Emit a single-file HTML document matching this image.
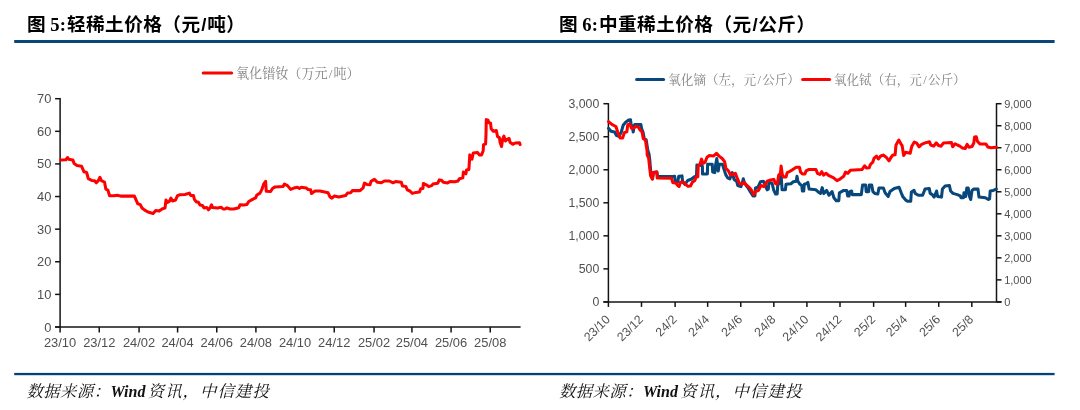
<!DOCTYPE html>
<html lang="zh-CN">
<head>
<meta charset="utf-8">
<title>图 5 / 图 6</title>
<style>
html,body{margin:0;padding:0;background:#fff;}
body{width:1080px;height:410px;position:relative;overflow:hidden;}
.ttl{position:absolute;top:11.6px;height:26px;line-height:26px;white-space:nowrap;
  font-family:"Liberation Serif","Noto Sans CJK SC",sans-serif;font-weight:bold;font-size:18.67px;color:#000;}
.ttl .cj{letter-spacing:0.42px;margin-left:1.1px;}
.ttl .sl{font-family:"Liberation Sans","Noto Sans CJK SC",sans-serif;margin:0 0.7px 0 0.8px;letter-spacing:0;}
.src .cj{letter-spacing:0.8px;font-size:16.4px;}
.src .c1{letter-spacing:0.4px;}
.src .c2{letter-spacing:1.1px;margin-left:-1.8px;}
.src{position:absolute;top:380.3px;height:24px;line-height:24px;white-space:nowrap;
  font-family:"Liberation Serif","Noto Serif CJK SC",serif;font-style:italic;font-size:16px;color:#111;}
</style>
</head>
<body>
<svg width="1080" height="410" viewBox="0 0 1080 410" style="position:absolute;left:0;top:0">
<rect x="14.2" y="40" width="1040.4" height="3" fill="#07477c"/>
<rect x="14.2" y="372.9" width="1040.4" height="2.3" fill="#04437a"/>
<g stroke="#141414" stroke-width="1.5" fill="none">
<path d="M60.1 98.10000000000001V327.0"/>
<path d="M55.1 327.0H520.6"/>
<path d="M55.1 327.00H60.1"/>
<path d="M55.1 294.39H60.1"/>
<path d="M55.1 261.77H60.1"/>
<path d="M55.1 229.16H60.1"/>
<path d="M55.1 196.54H60.1"/>
<path d="M55.1 163.93H60.1"/>
<path d="M55.1 131.31H60.1"/>
<path d="M55.1 98.70H60.1"/>
<path d="M60.10 327.0V332.5"/>
<path d="M99.26 327.0V332.5"/>
<path d="M139.07 327.0V332.5"/>
<path d="M177.59 327.0V332.5"/>
<path d="M216.75 327.0V332.5"/>
<path d="M255.91 327.0V332.5"/>
<path d="M295.07 327.0V332.5"/>
<path d="M334.23 327.0V332.5"/>
<path d="M374.04 327.0V332.5"/>
<path d="M411.92 327.0V332.5"/>
<path d="M451.08 327.0V332.5"/>
<path d="M490.24 327.0V332.5"/>
</g>
<g font-family="'Liberation Sans', Arial, sans-serif" font-size="12.9" fill="#505050">
<text x="51.4" y="331.50" text-anchor="end">0</text>
<text x="51.4" y="298.89" text-anchor="end">10</text>
<text x="51.4" y="266.27" text-anchor="end">20</text>
<text x="51.4" y="233.66" text-anchor="end">30</text>
<text x="51.4" y="201.04" text-anchor="end">40</text>
<text x="51.4" y="168.43" text-anchor="end">50</text>
<text x="51.4" y="135.81" text-anchor="end">60</text>
<text x="51.4" y="103.20" text-anchor="end">70</text>
<text x="60.10" y="347.0" text-anchor="middle">23/10</text>
<text x="99.26" y="347.0" text-anchor="middle">23/12</text>
<text x="139.07" y="347.0" text-anchor="middle">24/02</text>
<text x="177.59" y="347.0" text-anchor="middle">24/04</text>
<text x="216.75" y="347.0" text-anchor="middle">24/06</text>
<text x="255.91" y="347.0" text-anchor="middle">24/08</text>
<text x="295.07" y="347.0" text-anchor="middle">24/10</text>
<text x="334.23" y="347.0" text-anchor="middle">24/12</text>
<text x="374.04" y="347.0" text-anchor="middle">25/02</text>
<text x="411.92" y="347.0" text-anchor="middle">25/04</text>
<text x="451.08" y="347.0" text-anchor="middle">25/06</text>
<text x="490.24" y="347.0" text-anchor="middle">25/08</text>
</g>
<polyline points="60.6,160 65.8,159.7 66.8,158.4 67.6,157.5 68.8,159.3 72.8,159.9 74.2,163.6 77,165.5 81.5,166.2 84,171.8 86.6,172.5 88.3,178.7 91.7,180.4 94.6,180.7 96.3,182.8 98.5,180.4 99.9,177.3 101.4,180.7 104.5,182.1 105.9,189.2 107.9,190.1 109.6,195.7 113.9,195.7 117.3,195.2 120.7,196.1 134.4,196.1 137.8,203.8 140.3,204.6 142,208 145.4,210.6 148.9,212.3 153.1,213.5 155.7,210.6 159.1,211.1 162.5,208.8 165,208.1 166,200 167.5,202.5 169.4,201.3 170.9,198.1 172.5,201 175.6,200 177.5,195.6 180,194.8 185,194.5 189.4,193.1 190.6,195.4 193.5,195.6 194.4,199.4 196.3,201.9 198.1,201.9 200,205 202.5,205.6 204,207.9 206.9,207.5 208.5,209.8 210,208.1 211.5,204.8 212.5,207.5 217.5,208.1 221.3,207.3 223.1,209 225,209 226.9,207.9 230,209 233.8,209 238.8,207.8 240,204.8 243.8,205 246.9,204.4 248.8,201.5 252.5,199.4 255.6,197.8 256.9,195 260,193.1 261.9,189.4 263.8,183.8 265.6,181.3 266.3,191.3 270.6,191.5 272.5,188.5 275,186.9 283.1,186.5 284.4,184 287.5,185.6 290.6,189.4 293.8,188.1 297.5,187.3 299.4,188.5 301.3,187.3 306.3,188.1 308.1,189.4 310.6,189.8 311.5,193.5 315,191 320,191 328.1,192.8 330,196.9 331.9,198.1 334.4,196 338.8,196.9 345.6,195.6 347.5,193.1 350.6,192.8 352.5,190.6 360,190.6 363.1,187.8 364.4,183.1 366.9,184.4 370,184.8 371,181.3 374.4,179.4 377.5,182.3 381.3,182.8 384.4,181 389.4,181 393.1,182.8 395.6,181.5 401.3,182.3 402.5,186.1 405.8,186.4 407.3,189.8 409.9,191 412.3,193.4 416,192.4 419.5,192.1 420.7,188.8 422.9,188.4 423.4,183.5 426.2,184.8 428.7,186.6 431.7,185.6 432.9,184.1 437.8,183.2 439.3,179.9 441.5,180.2 443.3,182.3 447.6,182.9 450,181.5 454.9,181.7 457.9,181.1 459.5,178.7 462.8,177.8 463.4,172 465.9,173.8 466.5,170.1 468.9,169.5 469.8,154.9 472,159.1 473.2,153 477.4,152.4 479.6,155 481.5,154.9 483.2,150.7 483.5,144.6 485.6,144 486,134.3 486.3,119.6 488,120.2 488.8,122.7 490.5,123 491.2,128.8 493.3,131.2 496.3,130.6 497.6,136.7 499.4,137.7 500.2,142.8 501.5,146.5 502.7,139.1 503.9,136.1 505.5,141 507.3,139.1 509.1,138.5 510,142.2 512.8,144.3 515.2,143 519.5,142.8 520.1,144.6" fill="none" stroke="#ff0000" stroke-width="3.05" stroke-linejoin="round" stroke-linecap="round"/>
<path d="M203.2 73H231.6" stroke="#ff0000" stroke-width="3" stroke-linecap="round"/>
<text x="236" y="77.9" font-family="'Liberation Serif', 'Noto Serif CJK SC', serif" font-size="13.1" fill="#828282">氧化镨钕（万元<tspan dx="1.1">/</tspan><tspan dx="1.1">吨）</tspan></text>
<g stroke="#141414" stroke-width="1.5" fill="none">
<path d="M608.4 103.10000000000001V301.9"/>
<path d="M996.5 103.10000000000001V301.9"/>
<path d="M603.4 301.9H1001.5"/>
<path d="M603.4 301.90H608.4"/>
<path d="M603.4 268.87H608.4"/>
<path d="M603.4 235.83H608.4"/>
<path d="M603.4 202.80H608.4"/>
<path d="M603.4 169.77H608.4"/>
<path d="M603.4 136.73H608.4"/>
<path d="M603.4 103.70H608.4"/>
<path d="M996.5 301.90H1001.5"/>
<path d="M996.5 279.88H1001.5"/>
<path d="M996.5 257.86H1001.5"/>
<path d="M996.5 235.83H1001.5"/>
<path d="M996.5 213.81H1001.5"/>
<path d="M996.5 191.79H1001.5"/>
<path d="M996.5 169.77H1001.5"/>
<path d="M996.5 147.74H1001.5"/>
<path d="M996.5 125.72H1001.5"/>
<path d="M996.5 103.70H1001.5"/>
<path d="M608.40 301.9V306.9"/>
<path d="M641.49 301.9V306.9"/>
<path d="M675.12 301.9V306.9"/>
<path d="M707.66 301.9V306.9"/>
<path d="M740.75 301.9V306.9"/>
<path d="M773.83 301.9V306.9"/>
<path d="M806.92 301.9V306.9"/>
<path d="M840.00 301.9V306.9"/>
<path d="M873.63 301.9V306.9"/>
<path d="M905.64 301.9V306.9"/>
<path d="M938.72 301.9V306.9"/>
<path d="M971.81 301.9V306.9"/>
</g>
<g font-family="'Liberation Sans', Arial, sans-serif" font-size="12.3" fill="#505050">
<text x="599.3" y="306.30" text-anchor="end">0</text>
<text x="599.3" y="273.27" text-anchor="end">500</text>
<text x="599.3" y="240.23" text-anchor="end">1,000</text>
<text x="599.3" y="207.20" text-anchor="end">1,500</text>
<text x="599.3" y="174.17" text-anchor="end">2,000</text>
<text x="599.3" y="141.13" text-anchor="end">2,500</text>
<text x="599.3" y="108.10" text-anchor="end">3,000</text>
<text transform="translate(610.80 320.20) rotate(-45)" text-anchor="end">23/10</text>
<text transform="translate(643.89 320.20) rotate(-45)" text-anchor="end">23/12</text>
<text transform="translate(677.52 320.20) rotate(-45)" text-anchor="end">24/2</text>
<text transform="translate(710.06 320.20) rotate(-45)" text-anchor="end">24/4</text>
<text transform="translate(743.15 320.20) rotate(-45)" text-anchor="end">24/6</text>
<text transform="translate(776.23 320.20) rotate(-45)" text-anchor="end">24/8</text>
<text transform="translate(809.32 320.20) rotate(-45)" text-anchor="end">24/10</text>
<text transform="translate(842.40 320.20) rotate(-45)" text-anchor="end">24/12</text>
<text transform="translate(876.03 320.20) rotate(-45)" text-anchor="end">25/2</text>
<text transform="translate(908.04 320.20) rotate(-45)" text-anchor="end">25/4</text>
<text transform="translate(941.12 320.20) rotate(-45)" text-anchor="end">25/6</text>
<text transform="translate(974.21 320.20) rotate(-45)" text-anchor="end">25/8</text>
</g>
<g font-family="'Liberation Sans', Arial, sans-serif" font-size="11" fill="#505050">
<text x="1004.2" y="305.80">0</text>
<text x="1004.2" y="283.78">1,000</text>
<text x="1004.2" y="261.76">2,000</text>
<text x="1004.2" y="239.73">3,000</text>
<text x="1004.2" y="217.71">4,000</text>
<text x="1004.2" y="195.69">5,000</text>
<text x="1004.2" y="173.67">6,000</text>
<text x="1004.2" y="151.64">7,000</text>
<text x="1004.2" y="129.62">8,000</text>
<text x="1004.2" y="107.60">9,000</text>
</g>
<polyline points="608.5,128.3 611,131.3 614.6,132 616.5,135.6 619,136.2 621.3,132 623.2,125.2 625.6,122.2 628.7,120 630.5,119.8 631.1,124.6 632.2,126 633.2,132 634.2,126 634.8,124.4 640.9,124.4 641.5,128.3 643,132 644.3,138.7 646.2,139.9 647.8,150.2 649,154 649.8,160 650.4,168 651.2,176 652.5,179 653.5,172.6 656.9,172 657.6,176.6 672.8,176.6 674.6,176.2 675.3,181.7 677.8,182 678.7,176.2 682,175.9 682.6,182 685,184.5 687.7,180.5 691.1,179.3 694.8,176.6 696.5,176 696.9,165 701.8,165.5 702.4,166.2 702.5,173.9 707.4,173.9 707.6,164.2 712.2,164.2 712.7,172 714.8,172.6 715.6,165 716.8,158.6 717.6,165 718.2,171 719.3,164.2 722.4,164.2 724.1,169.6 725.8,174.7 727.6,177.8 729.9,178.8 732.3,172.7 734.1,179.4 736.6,181.2 737.8,185.5 740.9,186.7 742.7,181.2 743.3,178.8 744.5,183 747.6,187.3 750.6,192.2 753,195.9 754.9,195.9 755.5,187.9 757.9,187.3 760.4,181.8 763.4,181.2 765.9,186.7 767.1,189.8 768.3,189.1 768.9,182.4 772,183 773.8,190.4 775.6,194 777.2,194 777.7,185.5 779.3,183 780.5,176.3 781.3,178.2 782.1,189.8 785.4,189.8 786,184.3 790.9,183.7 793.3,181.8 796.3,181.2 797,176.3 797.8,181.2 800,184.3 801.8,185.5 802.4,191 803.7,191 804.3,184.3 806.1,183.7 807.9,182.4 809.1,189.1 815.9,189.8 818.5,192.2 820.5,193.4 822.2,187.6 823.8,193.6 826.6,190.4 829,195.2 832.1,191.6 833.9,197.7 836.3,200.7 838.8,200.7 839.4,192.8 843.7,190.4 846.7,190.4 847.7,195.9 849.1,195.9 849.8,191.6 851.6,191 852.2,194.6 861.3,194.6 862.6,184.9 865.6,184.9 866.2,191.6 868.7,191.6 869.3,184.9 871.7,184.9 872.9,191.6 874.8,193.4 877.8,194 879,187.9 883.3,187.9 885.1,192.8 888.2,196.5 890,191.6 894.3,188.5 899.1,187.3 901.1,192.5 902.9,196.8 905.7,200.1 907.9,201.3 910.7,201.3 911.4,192 914,190.4 915.2,193.4 918.3,195.2 922.6,195.2 923.8,192.2 925,189.1 929.3,188.5 930.2,193.4 932.3,194.6 934.1,197.1 935.4,194 936.6,191 937.6,196.5 941.5,197.1 942.4,189.1 945.1,186.1 949.4,185.5 950.6,191 953,193.4 957.3,194.6 960.4,195.9 961,197.7 963.4,197.7 964,192.8 965.6,196.5 966.8,187.9 968.2,187.9 969.3,195.9 970.7,199.5 972,190.4 973.8,189.1 978,189.1 979,197.1 985.4,197.7 988.4,199.5 989.6,198.9 990.2,191 993.3,190.4 996.3,189.1" fill="none" stroke="#07477c" stroke-width="3.05" stroke-linejoin="round" stroke-linecap="round"/>
<polyline points="608.5,121.6 612.2,124.6 615.9,126.5 617.7,132 620.1,138 622.6,138 624.4,132.6 626.8,131.7 627.8,124.6 629.9,124 631.5,128.3 633.5,128.3 635.4,126.5 638.4,127.1 640.2,130.1 642.1,132 643.3,138.7 645.4,139.9 647,150.2 647.2,154.9 648.7,158.5 649.6,167.1 650.6,175.6 652.3,179 653.3,172.6 656.7,172 657.2,178 671.6,178.3 672.8,182.7 675.9,182.9 677.1,184.8 679.1,186.6 680.4,182.3 683.8,182.3 686.2,184.8 688,186.3 690.5,186 692.3,182.3 694.8,180.5 696,177.4 697.8,176.8 698.2,165.9 700.2,164 701.5,159.1 703,163.4 705.1,162.2 707,157.3 709.4,155.5 713.7,155.9 716.5,153.4 719.1,156.1 722.2,158.5 724.6,161.6 725.9,168.3 728.5,171 730.5,175.1 732.9,174.5 735.4,173.3 737.2,178.2 739.6,183.7 742.1,184.3 743.9,182.4 746.3,184.9 749.4,187.7 751.2,189.8 753.7,194.6 755.5,191.6 758.5,190.4 761,185.5 764,186.7 767.1,181.2 770.7,180 773.8,179.4 775.6,183.7 777.4,183.7 778.7,175.1 780.5,173.3 781.1,166 782.3,174.5 783.5,177 786,177 787.2,172.7 789.6,171.5 792.7,169.6 796.3,167.2 799.4,167.2 800.6,172.1 802.4,173.9 804.9,173.9 806.1,170.9 809.1,169.4 815.9,169.4 817.5,173.3 819.9,174.5 821.7,171.7 823.6,175.1 826,173.3 829,175.7 833.3,177.6 837,180.6 839.4,179.4 843.7,176.3 845.5,172.1 847.9,173.3 850.4,170.2 862,169.6 864.6,165.8 866.5,168 869.2,167.8 870.4,164.5 872.8,162.1 874,158.4 876.5,156 878.3,159 880.7,156 883.2,155.1 886.2,157.2 889,160.9 891.1,157.2 892.9,155.1 895.1,154.8 896,145 898.8,140.1 900.9,143.8 902.1,145.6 903.7,155.4 905.7,152.3 910.2,153.2 911.8,146.2 914.3,142 916.7,143.2 919.1,146.8 921.6,144.4 925.2,142.9 929.5,141.7 930.7,145 933.8,146.2 936.2,142.9 938.7,145.6 941.1,146.2 943.5,142.9 951.5,142.6 952.7,146.8 955.1,143.8 957.4,145 959.8,146.1 962.2,147.9 965.2,148.5 967.1,144.3 968.9,147.3 972,146.5 973.8,143 974.6,137 976.2,136.7 977.4,141.2 979.9,144 986,144 987.8,147 990.9,147.7 996.3,147.3" fill="none" stroke="#ff0000" stroke-width="3.05" stroke-linejoin="round" stroke-linecap="round"/>
<path d="M636.6 79.6H663.6" stroke="#07477c" stroke-width="3" stroke-linecap="round"/>
<text x="668.3" y="84.3" font-family="'Liberation Serif', 'Noto Serif CJK SC', serif" font-size="12.55" fill="#828282">氧化镝（左，元<tspan dx="1.3">/</tspan><tspan dx="1.3">公斤）</tspan></text>
<path d="M802.6 79.6H829.6" stroke="#ff0000" stroke-width="3" stroke-linecap="round"/>
<text x="834" y="84.3" font-family="'Liberation Serif', 'Noto Serif CJK SC', serif" font-size="12.55" fill="#828282">氧化铽（右，元<tspan dx="1.3">/</tspan><tspan dx="1.3">公斤）</tspan></text>
</svg>
<div class="ttl" style="left:27px">图 5:<span class="cj">轻稀土价格（元<span class="sl">/</span>吨）</span></div>
<div class="ttl" style="left:559px">图 6:<span class="cj">中重稀土价格（元<span class="sl">/</span>公斤）</span></div>
<div class="src" style="left:26.5px"><span class="cj c1">数据来源：</span><b>Wind</b> <span class="cj c2">资讯，中信建投</span></div>
<div class="src" style="left:559px"><span class="cj c1">数据来源：</span><b>Wind</b> <span class="cj c2">资讯，中信建投</span></div>
</body>
</html>
